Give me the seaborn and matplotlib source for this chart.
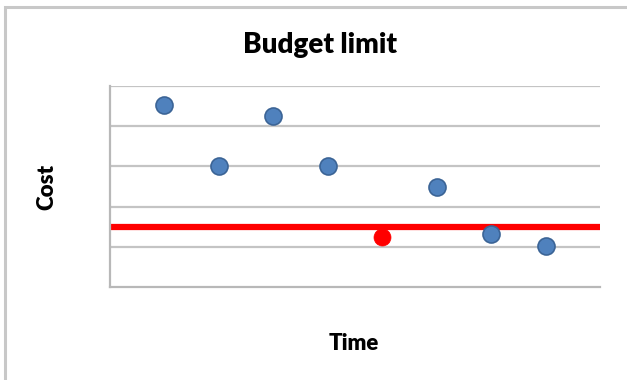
import matplotlib
matplotlib.use("Agg")
import matplotlib.pyplot as plt
import seaborn as sns
import pandas as pd
from matplotlib.patches import Rectangle

# Cost readings over time and the budget threshold
time_points = [1, 2, 3, 4, 5, 6, 7, 8]
cost_values = [4.53, 3.01, 4.25, 3.01, 1.24, 2.49, 1.32, 1.02]
over_budget = [False, False, False, False, True, False, False, False]
budget_limit = 1.5
grid_levels = [1, 2, 3, 4, 5]

df = pd.DataFrame({"Time": time_points, "Cost": cost_values,
                   "flag": ["red" if f else "blue" for f in over_budget]})

sns.set_theme(style="white")
plt.rcParams["font.family"] = ["Lato", "DejaVu Sans"]

W, H, DPI = 627, 380, 100
fig = plt.figure(figsize=(W / DPI, H / DPI), dpi=DPI)
fig.patch.set_facecolor("white")

# outer chart frame
fig.patches.append(Rectangle((5 / W, -0.1), 1.2, 1 - 7 / H + 0.1,
                             transform=fig.transFigure, fill=False,
                             edgecolor="#c8c8c8", linewidth=2.2))

ax = fig.add_axes([110 / W, 1 - 287 / H, (600 - 110) / W, (287 - 86) / H])
ax.set_xlim(0, 9)
ax.set_ylim(0, 5)

for lv in grid_levels:
    ax.axhline(lv, color="#c4c4c4", linewidth=1.6, zorder=1)

ax.axhline(budget_limit, color="#ff0000", linewidth=4.5, zorder=2)

blue = df[df["flag"] == "blue"]
red = df[df["flag"] == "red"]
sns.scatterplot(data=blue, x="Time", y="Cost", ax=ax, s=150,
                color="#4f81bd", edgecolor="#3b6496", linewidth=1.2, zorder=3)
sns.scatterplot(data=red, x="Time", y="Cost", ax=ax, s=150,
                color="#ff0000", edgecolor="#ff0000", linewidth=0.5, zorder=3)

for side in ["top", "right"]:
    ax.spines[side].set_visible(False)
ax.spines["left"].set_color("#b8b8b8")
ax.spines["left"].set_linewidth(1.6)
ax.spines["bottom"].set_color("#b8b8b8")
ax.spines["bottom"].set_linewidth(1.6)
ax.set_xticks([])
ax.set_yticks([])
ax.set_xlabel("")
ax.set_ylabel("")

fig.text(320 / W, 1 - 45 / H, "Budget limit", ha="center", va="center",
         fontsize=20, fontweight="heavy", color="black")
fig.text(354 / W, 1 - 344 / H, "Time", ha="center", va="center",
         fontsize=16, fontweight="heavy", color="black")
fig.text(47 / W, 1 - 187 / H, "Cost", ha="center", va="center",
         fontsize=16, fontweight="heavy", color="black", rotation=90)

fig.savefig("out.png", dpi=DPI)
